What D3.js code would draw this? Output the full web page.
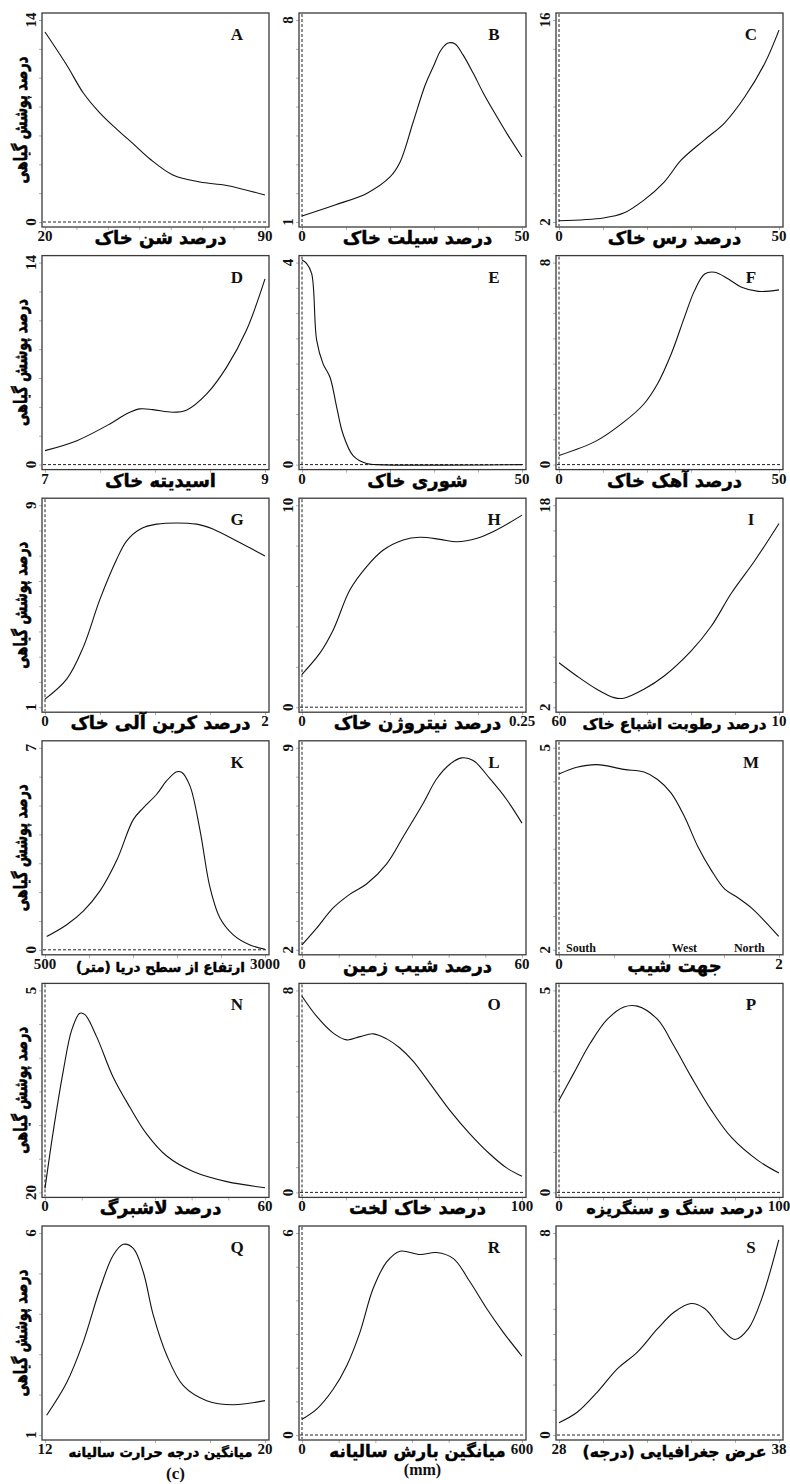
<!DOCTYPE html>
<html>
<head>
<meta charset="utf-8">
<script src="https://cdn.jsdelivr.net/npm/d3@7"></script>
<style>
  body { margin: 0; background: #fff; }
  .frame { fill: none; stroke: #3a3a3a; stroke-width: 1.3; }
  .curve { fill: none; stroke: #111; stroke-width: 1.1; }
  .zero { stroke: #222; stroke-width: 1; stroke-dasharray: 3,2; }
  .ticks line { stroke: #b0b0b0; }
  .ticks path { display: none; }
  .num { font-family: "Liberation Serif", "Times New Roman", serif; font-weight: bold; font-size: 15px; fill: #111; }
  .x-title, .y-title { font-family: "DejaVu Sans", sans-serif; font-weight: bold; fill: #000; stroke: #000; stroke-width: 0.45; }
  .x-title { font-size: 18px; }
  .y-title { font-size: 18px; stroke-width: 0.6; }
  .panel-id { font-family: "Liberation Serif", serif; font-weight: bold; font-size: 17px; fill: #111; }
  .aspect { font-family: "Liberation Serif", serif; font-weight: bold; font-size: 12px; fill: #111; }
</style>
</head>
<body>
<div id="chart"></div>
<script>
// Response curves of vegetation cover (%) against 18 environmental factors.

const panelIds = ["A", "B", "C", "D", "E", "F", "G", "H", "I", "K", "L", "M", "N", "O", "P", "Q", "R", "S"];

const xTitles = [
  "درصد شن خاک", "درصد سیلت خاک", "درصد رس خاک",
  "اسیدیته خاک", "شوری خاک", "درصد آهک خاک",
  "درصد کربن آلی خاک", "درصد نیتروژن خاک", "درصد رطوبت اشباع خاک",
  "ارتفاع از سطح دریا (متر)", "درصد شیب زمین", "جهت شیب",
  "درصد لاشبرگ", "درصد خاک لخت", "درصد سنگ و سنگریزه",
  "میانگین درجه حرارت سالیانه", "میانگین بارش سالیانه", "عرض جغرافیایی (درجه)"
];

const yTitle = "درصد پوشش گیاهی";

const xDomains = [
  [20, 90], [0, 50], [0, 50],
  [7, 9], [0, 50], [0, 50],
  [0, 2], [0, 0.25], [10, 60],
  [500, 3000], [0, 60], [0, 2],
  [0, 60], [0, 100], [0, 100],
  [12, 20], [0, 600], [28, 38]
];

const yDomains = [
  [0, 14], [1, 8], [2, 16],
  [0, 14], [0, 4], [0, 8],
  [1, 9], [0, 10], [2, 18],
  [0, 7], [2, 9], [2, 5],
  [2, 5], [0, 8], [0, 5],
  [1, 6], [0, 6], [0, 8]
];

// tick labels as printed: [left, right] and [bottom, top]
const xTickLabels = [
  ["20", "90"], ["0", "50"], ["0", "50"],
  ["7", "9"], ["0", "50"], ["0", "50"],
  ["0", "2"], ["0", "0.25"], ["60", "10"],
  ["500", "3000"], ["0", "60"], ["0", "2"],
  ["0", "60"], ["0", "100"], ["0", "100"],
  ["12", "20"], ["0", "600"], ["28", "38"]
];

const yTickLabels = [
  ["0", "14"], ["1", "8"], ["2", "16"],
  ["0", "14"], ["0", "4"], ["0", "8"],
  ["1", "9"], ["0", "10"], ["2", "18"],
  ["0", "7"], ["2", "9"], ["2", "5"],
  ["20", "5"], ["0", "8"], ["0", "5"],
  ["1", "6"], ["0", "6"], ["0", "8"]
];

const aspectNames = ["South", "West", "North"];
const aspectValues = [0.2, 1.14, 1.73];

const curveA = [[20, 13.17], [26.9, 10.88], [32.2, 8.94], [37.5, 7.55], [42.8, 6.44], [48.1, 5.41], [53.4, 4.37], [60.7, 3.26], [69.3, 2.77], [77.8, 2.53], [90, 1.87]];
const curveB = [[0, 1.21], [7.5, 1.59], [14.8, 2.0], [20, 2.56], [22.3, 3.08], [25.2, 4.43], [28, 5.75], [29.8, 6.37], [31.6, 6.96], [33.2, 7.2], [34.8, 7.17], [36.6, 6.79], [38.9, 6.16], [41.1, 5.5], [43.4, 4.88], [46.8, 4.01], [50, 3.25]];
const curveC = [[0, 2.09], [10.1, 2.28], [14.7, 2.62], [19.3, 3.52], [23.9, 4.77], [27.8, 6.3], [33, 7.68], [37.6, 8.86], [42.2, 10.66], [46.8, 13.02], [50, 15.3]];
const curveD = [[7, 0.97], [7.29, 1.66], [7.59, 2.82], [7.74, 3.51], [7.86, 3.86], [7.98, 3.81], [8.16, 3.63], [8.29, 3.79], [8.47, 4.9], [8.65, 6.74], [8.83, 9.29], [9, 12.87]];
const curveE = [[0, 4.05], [1.07, 3.98], [2.2, 3.78], [3.34, 2.46], [4.77, 2.0], [6.36, 1.73], [7.9, 1.13], [9.3, 0.61], [11.6, 0.18], [14.7, 0.02], [17, 0], [50, 0]];
const curveF = [[0, 0.36], [8.6, 0.95], [14.7, 1.68], [19.3, 2.4], [22.4, 3.2], [25.5, 4.38], [28.5, 5.83], [30.8, 6.89], [33.1, 7.55], [35.4, 7.62], [38.5, 7.35], [41.5, 7.02], [45.3, 6.86], [50, 6.92]];
const curveG = [[0, 1.32], [0.197, 2.11], [0.348, 3.38], [0.5, 5.28], [0.652, 6.86], [0.743, 7.59], [0.864, 8.05], [1.015, 8.25], [1.379, 8.25], [1.53, 8.05], [1.77, 7.52], [2, 6.99]];
const curveH = [[0, 1.63], [0.0205, 2.69], [0.0356, 3.84], [0.0545, 5.81], [0.0735, 6.96], [0.0924, 7.78], [0.115, 8.28], [0.134, 8.41], [0.157, 8.31], [0.176, 8.19], [0.199, 8.36], [0.221, 8.77], [0.25, 9.51]];
const curveI = [[10, 5.52], [14.06, 4.47], [18.6, 3.42], [22.5, 2.76], [24.7, 2.71], [29.3, 3.42], [33.9, 4.47], [40, 6.44], [44.6, 8.41], [49.2, 11.04], [54.6, 13.66], [60, 16.55]];
const curveK = [[519, 0.46], [747, 0.87], [935, 1.34], [1125, 2.04], [1315, 3.1], [1503, 4.51], [1617, 4.92], [1769, 5.39], [1883, 5.86], [1997, 6.17], [2053, 6.15], [2147, 5.68], [2261, 4.15], [2375, 2.16], [2488, 1.1], [2639, 0.52], [2829, 0.17], [3000, 0.02]];
const curveL = [[0, 2.17], [4, 2.75], [8.5, 3.45], [13.1, 3.93], [17.6, 4.28], [23.1, 4.98], [27.6, 5.92], [33.1, 7.09], [36.7, 7.92], [40.4, 8.44], [43.6, 8.65], [46.7, 8.56], [51.3, 7.92], [55.8, 7.21], [60, 6.39]];
const curveM = [[0, 4.61], [0.162, 4.71], [0.346, 4.75], [0.59, 4.68], [0.773, 4.64], [0.896, 4.53], [1.018, 4.33], [1.14, 3.98], [1.263, 3.53], [1.385, 3.18], [1.507, 2.9], [1.63, 2.77], [1.752, 2.62], [1.874, 2.42], [1.997, 2.2]];
const curveN = [[0, 2.06], [2.26, 2.91], [5, 3.81], [7.28, 4.41], [9.5, 4.66], [10.9, 4.64], [14.1, 4.31], [18.6, 3.71], [23.2, 3.26], [27.7, 2.87], [33.2, 2.54], [40.4, 2.31], [49.6, 2.16], [60, 2.07]];
const curveO = [[0, 7.77], [6.7, 6.97], [14.2, 6.31], [20.3, 6.04], [26.4, 6.17], [32.4, 6.28], [38.5, 6.08], [44.5, 5.72], [50.5, 5.2], [58.2, 4.31], [67.3, 3.24], [76.4, 2.31], [85.5, 1.51], [93, 0.97], [100, 0.64]];
const curveP = [[0, 2.28], [6.6, 2.94], [14.2, 3.69], [21.9, 4.28], [29.5, 4.59], [35.6, 4.61], [44.8, 4.28], [52.4, 3.61], [60.1, 2.86], [69.3, 2.03], [78.4, 1.36], [90.7, 0.78], [100, 0.48]];
const curveQ = [[12.06, 1.49], [12.79, 2.3], [13.39, 3.3], [14, 4.62], [14.48, 5.45], [14.85, 5.72], [15.21, 5.62], [15.57, 5.04], [15.94, 3.96], [16.43, 2.97], [17.03, 2.22], [17.88, 1.85], [18.85, 1.75], [20, 1.85]];
const curveR = [[0, 0.47], [40, 0.77], [85, 1.36], [122, 2.06], [158, 3.05], [194, 4.35], [231, 5.14], [267, 5.46], [322, 5.36], [367, 5.42], [413, 5.24], [458, 4.55], [504, 3.75], [549, 3.05], [600, 2.34]];
const curveS = [[28, 0.49], [28.81, 0.89], [29.73, 1.69], [30.65, 2.62], [31.56, 3.28], [32.48, 4.21], [33.24, 4.87], [34, 5.21], [34.62, 5.01], [35.39, 4.21], [36, 3.78], [36.61, 4.21], [37.22, 5.41], [37.99, 7.73]];

const curves = [curveA, curveB, curveC, curveD, curveE, curveF, curveG, curveH, curveI,
  curveK, curveL, curveM, curveN, curveO, curveP, curveQ, curveR, curveS];

// layout of the 6 x 3 grid of framed panels
const width = 790;
const height = 1484;
const boxW = 227;
const boxH = 214;
const colLeft = c => 42 + c * 257;
const rowTop = r => 13 + r * 242.6;

const svg = d3.select("#chart")
  .append("svg")
  .attr("width", width)
  .attr("height", height);

svg.append("rect").attr("width", width).attr("height", height).attr("fill", "#fff");

panelIds.forEach((id, i) => {
  const col = i % 3;
  const row = Math.floor(i / 3);
  const L = colLeft(col);
  const T = rowTop(row);

  const x = d3.scaleLinear().domain(xDomains[i]).range([L + 3, L + boxW - 4]);
  const y = d3.scaleLinear().domain(yDomains[i]).range([T + boxH - 5, T + 7]);

  const g = svg.append("g").attr("class", "panel");

  // faint tick marks outside the frame
  g.append("g")
    .attr("class", "ticks")
    .attr("transform", `translate(${L},0)`)
    .call(d3.axisLeft(y).ticks(6).tickSize(3).tickFormat(""));

  g.append("g")
    .attr("class", "ticks")
    .attr("transform", `translate(0,${T + boxH})`)
    .call(d3.axisBottom(x).ticks(5).tickSize(3).tickFormat(""));

  // dashed reference lines at zero
  const [x0, x1] = xDomains[i];
  const [y0, y1] = yDomains[i];
  if (y0 <= 0 && y1 >= 0) {
    g.append("line").attr("class", "zero")
      .attr("x1", L + 1).attr("x2", L + boxW - 1)
      .attr("y1", y(0)).attr("y2", y(0));
  }
  if (x0 <= 0 && x1 >= 0) {
    g.append("line").attr("class", "zero")
      .attr("x1", x(0)).attr("x2", x(0))
      .attr("y1", T + 1).attr("y2", T + boxH - 1);
  }

  const line = d3.line()
    .x(d => x(d[0]))
    .y(d => y(d[1]))
    .curve(d3.curveCatmullRom.alpha(0.5));

  g.append("path").attr("class", "curve").attr("d", line(curves[i]));

  g.append("rect").attr("class", "frame")
    .attr("x", L).attr("y", T).attr("width", boxW).attr("height", boxH);

  g.append("text").attr("class", "panel-id")
    .attr("x", L + 195).attr("y", T + 27)
    .attr("text-anchor", "middle")
    .text(id);

  // end tick labels on the x axis
  const xr = x.range();
  let labelW = 0;
  xTickLabels[i].forEach((lab, k) => {
    const t = g.append("text").attr("class", "num")
      .attr("x", xr[k]).attr("y", T + boxH + 14)
      .attr("text-anchor", "middle")
      .text(lab);
    labelW = Math.max(labelW, t.node().getBBox().width);
  });

  // end tick labels on the y axis, rotated
  const yr = y.range();
  yTickLabels[i].forEach((lab, k) => {
    g.append("text").attr("class", "num")
      .attr("transform", `translate(${L - 6},${yr[k]}) rotate(-90)`)
      .attr("text-anchor", "middle")
      .text(lab);
  });

  // axis title sits between the two end labels; shrink it if it would collide
  const cx = L + boxW / 2 + 5;
  const title = g.append("text").attr("class", "x-title")
    .attr("x", cx).attr("y", T + boxH + 17)
    .attr("text-anchor", "middle")
    .text(xTitles[i]);
  const room = 2 * Math.min(cx - (xr[0] + labelW / 2 + 5), (xr[1] - labelW / 2 - 5) - cx);
  const tw = title.node().getBBox().width;
  if (tw > room) {
    title.style("font-size", `${18 * room / tw}px`);
  }

  // shared y title on the left column, squeezed along its length like the print
  if (col === 0) {
    g.append("text").attr("class", "y-title")
      .attr("transform", `translate(${L - 15},${T + boxH / 2}) rotate(-90) scale(0.72,1)`)
      .attr("text-anchor", "middle")
      .text(yTitle);
  }

  if (id === "M") {
    aspectNames.forEach((name, k) => {
      g.append("text").attr("class", "aspect")
        .attr("x", x(aspectValues[k])).attr("y", T + boxH - 3)
        .attr("text-anchor", "middle")
        .text(name);
    });
  }

  if (id === "R") {
    g.append("text").attr("class", "num")
      .attr("x", L + boxW / 2 + 10).attr("y", T + boxH + 35)
      .attr("text-anchor", "middle")
      .style("font-size", "16px")
      .text("(mm)");
  }
});

svg.append("text").attr("class", "num")
  .attr("x", colLeft(0) + boxW / 2 + 20).attr("y", height - 5)
  .attr("text-anchor", "middle")
  .style("font-size", "17px")
  .text("(c)");
</script>
</body>
</html>
